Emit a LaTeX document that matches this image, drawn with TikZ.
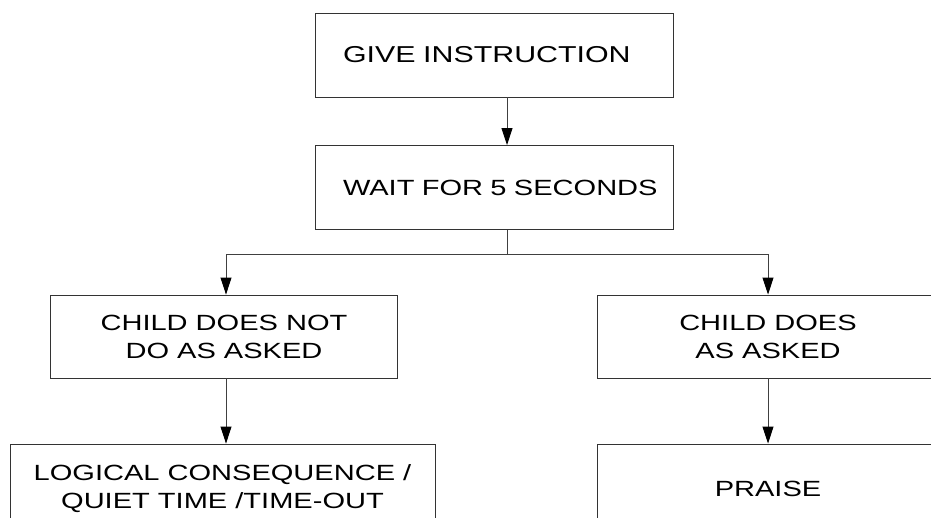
\documentclass[tikz,border=0pt]{standalone}
\usepackage{fontspec}
\setmainfont{Liberation Sans}
\newfontfamily\boxfont[FakeStretch=1.32]{Liberation Sans}
\usetikzlibrary{arrows.meta}
\begin{document}
\begin{tikzpicture}[x=1pt,y=-1pt,
  box/.style={draw=black!80, line width=0.9pt, minimum height=84pt, inner sep=0pt,
    font=\boxfont\fontsize{22}{28}\selectfont, align=center},
  lbox/.style={box, text width=350pt, inner xsep=4pt, align=left},
  conn/.style={draw=black!75, line width=0.9pt},
  arr/.style={conn, -{Triangle[length=17pt,width=11pt,color=black]}}]
\useasboundingbox (0,0) rectangle (931,517);
\clip (0,0) rectangle (931,517);
\fill[white] (0,0) rectangle (931,517);
\node[lbox, font=\boxfont\fontsize{23}{28}\selectfont] (b1) at (494,55) {\hspace*{24pt}GIVE INSTRUCTION};
\node[lbox] (b2) at (494,187.5) {\hspace*{24pt}WAIT FOR 5 SECONDS};
\node[box, minimum width=347pt, minimum height=83pt] (b3) at (224,336.5) {CHILD DOES NOT\\DO AS ASKED};
\node[box, minimum width=342pt, minimum height=83pt] (b5) at (768,336.5) {CHILD DOES\\AS ASKED};
\node[box, minimum width=425pt, minimum height=90pt] (b4) at (222.5,489) {LOGICAL CONSEQUENCE /\\QUIET TIME /TIME-OUT};
\node[box, minimum width=342pt, minimum height=90pt] (b6) at (768,489) {PRAISE};
\draw[arr] ([xshift=13pt]b1.south) -- ([xshift=13pt]b2.north);
\coordinate (split) at ([xshift=13pt,yshift=-24pt]b2.south);
\draw[conn] ([xshift=13pt]b2.south) -- (split);
\draw[arr] (split) -| ([xshift=2pt]b3.north);
\draw[arr] (split) -| (b5.north);
\draw[arr] ([xshift=2pt]b3.south) -- ([xshift=2pt]b3.south |- b4.north);
\draw[arr] (b5.south) -- (b6.north);
\end{tikzpicture}
\end{document}
